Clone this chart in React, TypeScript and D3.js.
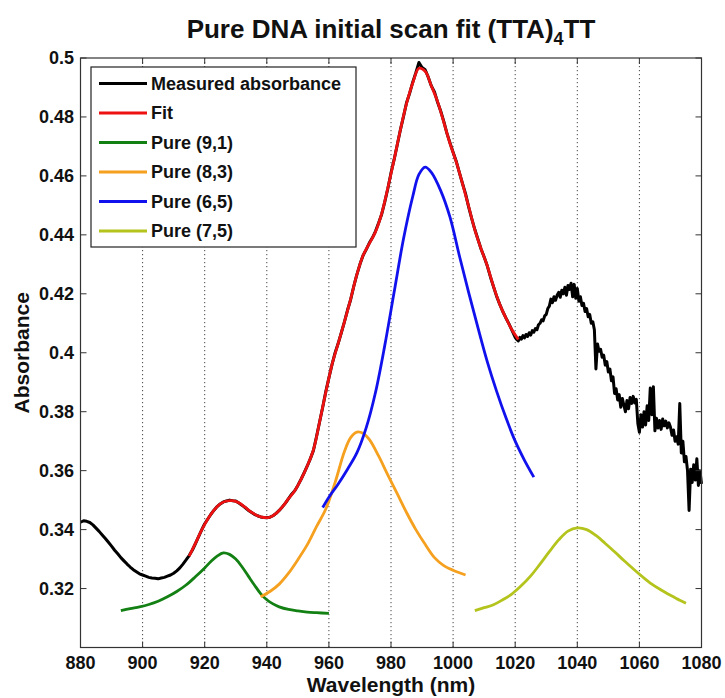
import React from "react";
import * as d3 from "d3";

// ---------------- data ----------------
const xTicks = [880, 900, 920, 940, 960, 980, 1000, 1020, 1040, 1060, 1080];
const yTicks = [0.32, 0.34, 0.36, 0.38, 0.4, 0.42, 0.44, 0.46, 0.48, 0.5];
const yTickLabels = ["0.32", "0.34", "0.36", "0.38", "0.4", "0.42", "0.44", "0.46", "0.48", "0.5"];

// measured absorbance, 880–1020 nm every 1 nm
const measuredSmoothStart = 880;
const measuredSmooth = [
  0.3425, 0.3430, 0.3428, 0.3424, 0.3416, 0.3405, 0.3394, 0.3382, 0.3370, 0.3357,
  0.3344, 0.3330, 0.3318, 0.3305, 0.3294, 0.3283, 0.3273, 0.3264, 0.3257, 0.3250,
  0.3246, 0.3242, 0.3238, 0.3236, 0.3235, 0.3233, 0.3236, 0.3238, 0.3242, 0.3246,
  0.3252, 0.3260, 0.3270, 0.3283, 0.3297, 0.3312, 0.3330, 0.3352, 0.3375, 0.3398,
  0.3420, 0.3436, 0.3452, 0.3466, 0.3478, 0.3487, 0.3494, 0.3497, 0.3500, 0.3498,
  0.3497, 0.3490, 0.3483, 0.3475, 0.3466, 0.3459, 0.3452, 0.3447, 0.3443, 0.3441,
  0.3440, 0.3442, 0.3447, 0.3455, 0.3465, 0.3477, 0.3490, 0.3505, 0.3520, 0.3532,
  0.3550, 0.3570, 0.3592, 0.3615, 0.3640, 0.3668, 0.3715, 0.3765, 0.3815, 0.3868,
  0.3915, 0.3960, 0.4000, 0.4032, 0.4068, 0.4105, 0.4145, 0.4180, 0.4225, 0.4265,
  0.4300, 0.4330, 0.4350, 0.4372, 0.4390, 0.4412, 0.4440, 0.4470, 0.4512, 0.4558,
  0.4610, 0.4655, 0.4705, 0.4755, 0.4800, 0.4848, 0.4880, 0.4918, 0.4950, 0.4985,
  0.4968, 0.4960, 0.4935, 0.4905, 0.4885, 0.4850, 0.4820, 0.4785, 0.4745, 0.4712,
  0.4680, 0.4650, 0.4612, 0.4575, 0.4540, 0.4495, 0.4455, 0.4418, 0.4385, 0.4352,
  0.4325, 0.4295, 0.4258, 0.4225, 0.4192, 0.4165, 0.4140, 0.4118, 0.4098, 0.4075,
  0.4052,
];
// measured absorbance, 1020.5–1080 nm every 0.5 nm (noisy tail)
const measuredNoisyStart = 1020.5;
const measuredNoisy = [
  0.4045, 0.4040, 0.4052, 0.4046, 0.4058, 0.4050, 0.4062, 0.4055, 0.4068, 0.4060,
  0.4075, 0.4070, 0.4082, 0.4078, 0.4095, 0.4100, 0.4112, 0.4108, 0.4125, 0.4130,
  0.4150, 0.4158, 0.4182, 0.4170, 0.4190, 0.4178, 0.4195, 0.4205, 0.4188, 0.4212,
  0.4200, 0.4222, 0.4195, 0.4228, 0.4215, 0.4236, 0.4190, 0.4232, 0.4185, 0.4218,
  0.4175, 0.4190, 0.4160, 0.4168, 0.4140, 0.4150, 0.4122, 0.4130, 0.4100, 0.4105,
  0.4078, 0.3945, 0.4030, 0.4005, 0.4012, 0.3985, 0.3992, 0.3958, 0.3970, 0.3935,
  0.3945, 0.3905, 0.3918, 0.3862, 0.3878, 0.3840, 0.3858, 0.3815, 0.3845, 0.3822,
  0.3800, 0.3838, 0.3810, 0.3848, 0.3828, 0.3852, 0.3830, 0.3842, 0.3760, 0.3730,
  0.3790, 0.3748, 0.3800, 0.3755, 0.3820, 0.3770, 0.3880, 0.3790, 0.3885, 0.3735,
  0.3778, 0.3745, 0.3770, 0.3740, 0.3775, 0.3752, 0.3768, 0.3745, 0.3762, 0.3748,
  0.3720, 0.3738, 0.3700, 0.3715, 0.3690, 0.3828, 0.3660, 0.3700, 0.3630, 0.3648,
  0.3600, 0.3465, 0.3605, 0.3560, 0.3620, 0.3568, 0.3640, 0.3550, 0.3600, 0.3555,
];

const fitWavelengths = [
  915, 917, 919, 921, 923, 925, 927, 929, 931, 933, 935, 937, 939, 941, 943, 945,
  947, 949, 951, 953, 955, 957, 959, 961, 963, 965, 967, 969, 971, 973, 975, 977,
  979, 981, 983, 985, 987, 989, 991, 993, 995, 997, 999, 1001, 1003, 1005, 1007,
  1009, 1011, 1013, 1015, 1017, 1019, 1021,
];
const fitValues = [
  0.3310, 0.3353, 0.3398, 0.3436, 0.3466, 0.3487, 0.3497, 0.3498, 0.3491, 0.3476,
  0.3459, 0.3447, 0.3441, 0.3442, 0.3455, 0.3477, 0.3505, 0.3532, 0.3570, 0.3615,
  0.3670, 0.3765, 0.3866, 0.3960, 0.4032, 0.4105, 0.4182, 0.4265, 0.4330, 0.4370,
  0.4410, 0.4472, 0.4560, 0.4655, 0.4755, 0.4845, 0.4915, 0.4965, 0.4955, 0.4905,
  0.4852, 0.4782, 0.4710, 0.4648, 0.4575, 0.4497, 0.4417, 0.4353, 0.4295, 0.4225,
  0.4165, 0.4118, 0.4077, 0.4045,
];

const pure91Wavelengths = [893, 896, 899, 902, 905, 908, 911, 914, 917, 920, 922, 924, 926, 928, 930, 932, 934, 936, 938, 940, 942, 944, 947, 950, 953, 956, 960];
const pure91Values = [0.3125, 0.3132, 0.3138, 0.3146, 0.3157, 0.3172, 0.3190, 0.3212, 0.3240, 0.3270, 0.3292, 0.3310, 0.3321, 0.3316, 0.3300, 0.3274, 0.3243, 0.3212, 0.3183, 0.3162, 0.3148, 0.3138, 0.3129, 0.3124, 0.3120, 0.3118, 0.3116];

const pure83Wavelengths = [938, 941, 944, 947, 950, 953, 956, 959, 962, 965, 967, 969, 971, 973, 976, 979, 982, 985, 988, 991, 994, 997, 1000, 1004];
const pure83Values = [0.3172, 0.3190, 0.3215, 0.3252, 0.3298, 0.3348, 0.3410, 0.3470, 0.3560, 0.3665, 0.3712, 0.3731, 0.3727, 0.3706, 0.3650, 0.3585, 0.3522, 0.3458, 0.3400, 0.3350, 0.3305, 0.3278, 0.3262, 0.3246];

const pure65Wavelengths = [958, 960, 963, 966, 969, 972, 975, 978, 981, 984, 987, 989, 991, 993, 996, 999, 1002, 1005, 1008, 1011, 1014, 1017, 1020, 1023, 1026];
const pure65Values = [0.3475, 0.3510, 0.3555, 0.3605, 0.3660, 0.3745, 0.3865, 0.4025, 0.4205, 0.4385, 0.4530, 0.4605, 0.4630, 0.4612, 0.4550, 0.4460, 0.4330, 0.4205, 0.4085, 0.3970, 0.3870, 0.3780, 0.3700, 0.3635, 0.3578];

const pure75Wavelengths = [1007, 1010, 1013, 1016, 1019, 1022, 1025, 1028, 1031, 1034, 1037, 1040, 1043, 1046, 1049, 1052, 1055, 1058, 1061, 1064, 1067, 1070, 1073, 1075];
const pure75Values = [0.3125, 0.3135, 0.3145, 0.3162, 0.3182, 0.3210, 0.3243, 0.3283, 0.3325, 0.3365, 0.3395, 0.3406, 0.3400, 0.3380, 0.3353, 0.3325, 0.3295, 0.3267, 0.3240, 0.3215, 0.3195, 0.3177, 0.3160, 0.3150];

const seriesNames = ["Measured absorbance", "Fit", "Pure (9,1)", "Pure (8,3)", "Pure (6,5)", "Pure (7,5)"];
const seriesColors = ["#000000", "#ee1111", "#138013", "#f5a01e", "#1111ee", "#b4c41c"];

// ---------------- layout ----------------
const W = 725;
const H = 698;
const left = 80.5;
const right = 701.5;
const top = 58;
const bottom = 647.5;
const FONT = "'Liberation Sans', Arial, Helvetica, sans-serif";

export default function App() {
  const x = d3.scaleLinear().domain([880, 1080]).range([left, right]);
  const y = d3.scaleLinear().domain([0.3, 0.5]).range([bottom, top]);

  const lineGen = (curve: d3.CurveFactory) =>
    d3
      .line<[number, number]>()
      .x((d) => x(d[0]))
      .y((d) => y(d[1]))
      .curve(curve);

  const zip = (a: number[], b: number[]) => a.map((v, i) => [v, b[i]] as [number, number]);

  const measured: [number, number][] = [
    ...measuredSmooth.map((v, i) => [measuredSmoothStart + i, v] as [number, number]),
    ...measuredNoisy.map((v, i) => [measuredNoisyStart + i * 0.5, v] as [number, number]),
  ];

  const series = [
    { data: measured, curve: d3.curveLinear, w: 3.0 },
    { data: zip(fitWavelengths, fitValues), curve: d3.curveCatmullRom, w: 2.8 },
    { data: zip(pure91Wavelengths, pure91Values), curve: d3.curveCatmullRom, w: 2.8 },
    { data: zip(pure83Wavelengths, pure83Values), curve: d3.curveCatmullRom, w: 2.8 },
    { data: zip(pure65Wavelengths, pure65Values), curve: d3.curveCatmullRom, w: 2.8 },
    { data: zip(pure75Wavelengths, pure75Values), curve: d3.curveCatmullRom, w: 2.8 },
  ];
  const drawOrder = [2, 3, 4, 5, 0, 1];

  const tickLen = 6;
  const legendX = 91;
  const legendY = 67;
  const legendW = 265;
  const legendH = 180;
  const legendRow = 29.5;

  return (
    <svg
      width={W}
      height={H}
      style={{ position: "absolute", left: 0, top: 0, background: "#fff" }}
      fontFamily={FONT}
    >
      <rect x={0} y={0} width={W} height={H} fill="#fff" />
      {xTicks.slice(1, -1).map((t) => (
        <line
          key={"g" + t}
          x1={x(t)}
          x2={x(t)}
          y1={top}
          y2={bottom}
          stroke="#444"
          strokeWidth={1}
          strokeDasharray="1.2,2.8"
        />
      ))}
      {drawOrder.map((i) => (
        <path
          key={"s" + i}
          d={lineGen(series[i].curve)(series[i].data) || ""}
          fill="none"
          stroke={seriesColors[i]}
          strokeWidth={series[i].w}
          strokeLinejoin="round"
        />
      ))}
      <rect x={left} y={top} width={right - left} height={bottom - top} fill="none" stroke="#333" strokeWidth={1.2} />
      {xTicks.map((t) => (
        <g key={"xt" + t}>
          <line x1={x(t)} x2={x(t)} y1={bottom} y2={bottom - tickLen} stroke="#333" />
          <line x1={x(t)} x2={x(t)} y1={top} y2={top + tickLen} stroke="#333" />
          <text x={x(t)} y={669} textAnchor="middle" fontSize={18} fontWeight="bold" fill="#111">
            {t}
          </text>
        </g>
      ))}
      {yTicks.map((t, i) => (
        <g key={"yt" + t}>
          <line x1={left} x2={left + tickLen} y1={y(t)} y2={y(t)} stroke="#333" />
          <line x1={right} x2={right - tickLen} y1={y(t)} y2={y(t)} stroke="#333" />
          <text x={74} y={y(t)} dy="0.36em" textAnchor="end" fontSize={18} fontWeight="bold" fill="#111">
            {yTickLabels[i]}
          </text>
        </g>
      ))}
      <text x={(left + right) / 2} y={692} textAnchor="middle" fontSize={21} fontWeight="bold" fill="#111">
        Wavelength (nm)
      </text>
      <text
        transform={`translate(29,${(top + bottom) / 2}) rotate(-90)`}
        textAnchor="middle"
        fontSize={21}
        fontWeight="bold"
        fill="#111"
      >
        Absorbance
      </text>
      <text x={(left + right) / 2} y={38} textAnchor="middle" fontSize={26} fontWeight="bold" fill="#111">
        Pure DNA initial scan fit (TTA)
        <tspan dy={7} fontSize={18}>4</tspan>
        <tspan dy={-7}>TT</tspan>
      </text>
      <rect x={legendX} y={legendY} width={legendW} height={legendH} fill="#fff" stroke="#222" strokeWidth={1.2} />
      {seriesNames.map((n, i) => {
        const ly = legendY + 16.5 + i * legendRow;
        return (
          <g key={"l" + i}>
            <line x1={99} x2={147} y1={ly} y2={ly} stroke={seriesColors[i]} strokeWidth={2.8} />
            <text x={151} y={ly} dy="0.36em" fontSize={18} fontWeight="bold" fill="#111">
              {n}
            </text>
          </g>
        );
      })}
    </svg>
  );
}
